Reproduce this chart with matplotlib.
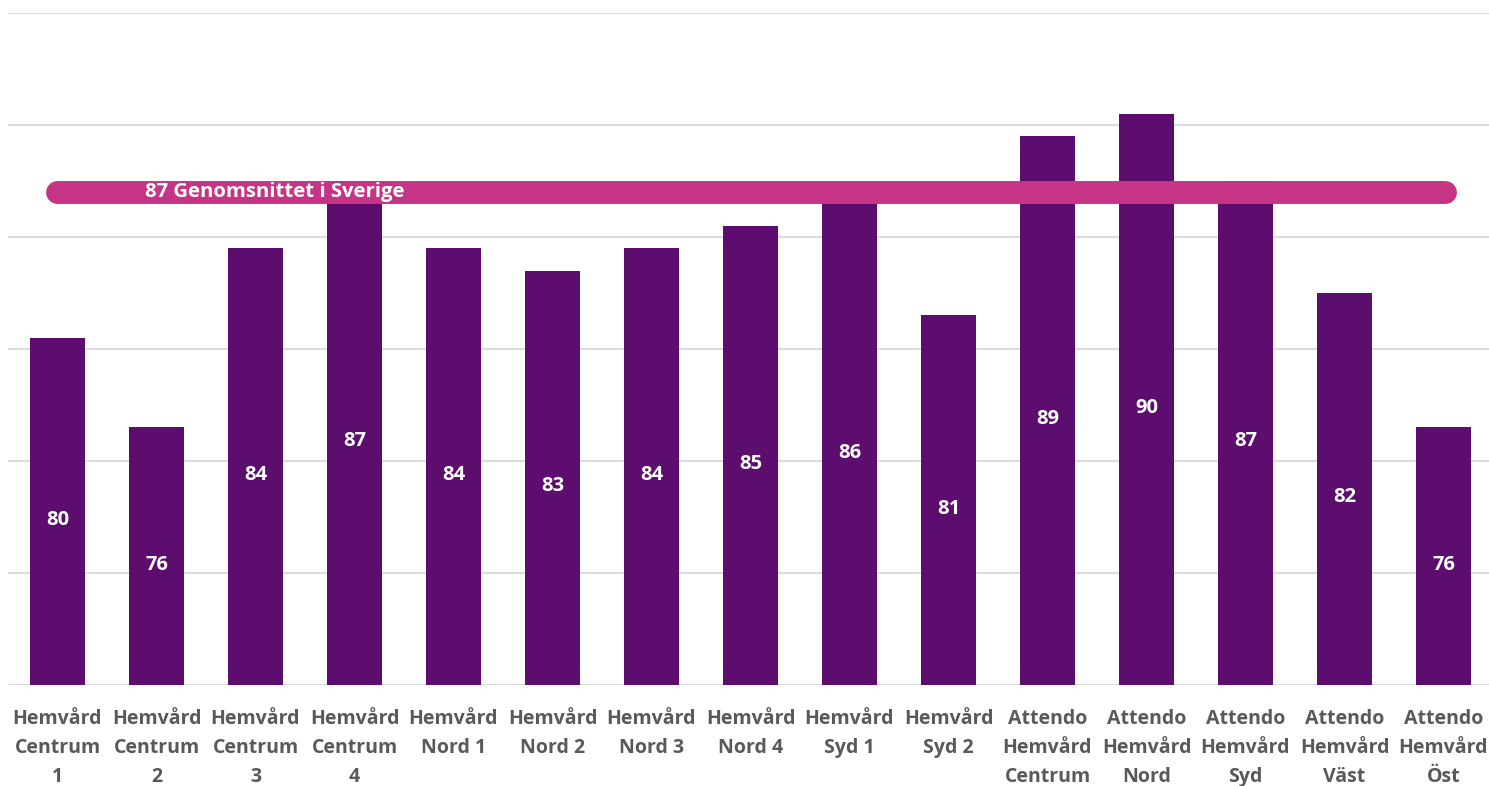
import matplotlib.pyplot as plt

# Data
categories = [
    "Hemvård\nCentrum\n1", "Hemvård\nCentrum\n2", "Hemvård\nCentrum\n3", "Hemvård\nCentrum\n4",
    "Hemvård\nNord 1", "Hemvård\nNord 2", "Hemvård\nNord 3", "Hemvård\nNord 4",
    "Hemvård\nSyd 1", "Hemvård\nSyd 2",
    "Attendo\nHemvård\nCentrum", "Attendo\nHemvård\nNord", "Attendo\nHemvård\nSyd",
    "Attendo\nHemvård\nVäst", "Attendo\nHemvård\nÖst",
]
values = [80, 76, 84, 87, 84, 83, 84, 85, 86, 81, 89, 90, 87, 82, 76]
sweden_avg = 87
avg_label = "87 Genomsnittet i Sverige"

y_min, y_max, y_step = 64.5, 94.5, 5

bar_color = "#5C0D6D"
avg_color = "#C63585"
font = "Open Sans"

fig = plt.figure(figsize=(14.89, 7.86), dpi=100)
ax = fig.add_axes([8 / 1489, 101 / 786, 1485 / 1489, 672 / 786])

x = list(range(len(values)))
ax.bar(x, values, width=0.556, bottom=0, color=bar_color, zorder=2)

ax.set_xlim(-0.5, len(values) - 0.5)
ax.set_ylim(y_min, y_max)
ticks = [y_min + i * y_step for i in range(int((y_max - y_min) / y_step) + 1)]
ax.set_yticks(ticks)
ax.yaxis.grid(True, color="#D9D9D9", linewidth=1.3, zorder=0)
ax.set_axisbelow(True)
ax.tick_params(axis="y", left=False, labelleft=False)
ax.tick_params(axis="x", bottom=False, pad=14)
for s in ax.spines.values():
    s.set_visible(False)

ax.set_xticks(x)
ax.set_xticklabels(categories, fontsize=14, fontweight="bold", color="#595959",
                   family=font, linespacing=1.6, va="top")

# Value labels in the middle of each bar
for xi, v in zip(x, values):
    ax.annotate(str(v), xy=(xi, (y_min + v) / 2), xytext=(0, -6),
                textcoords="offset points", ha="center", va="center",
                fontsize=14.5, fontweight="bold", color="white", family=font, zorder=4)

# Average band: thick rounded line, its top edge at the average value
ax.plot([-0.01, 14.02], [sweden_avg - 0.5, sweden_avg - 0.5], color=avg_color,
        linewidth=16.5, solid_capstyle="round", zorder=3, clip_on=False)
ax.text(0.88, sweden_avg - 0.5, avg_label, ha="left", va="center",
        fontsize=14.6, fontweight="bold", color="white", family=font, zorder=5)

fig.savefig("out.png", dpi=100)
